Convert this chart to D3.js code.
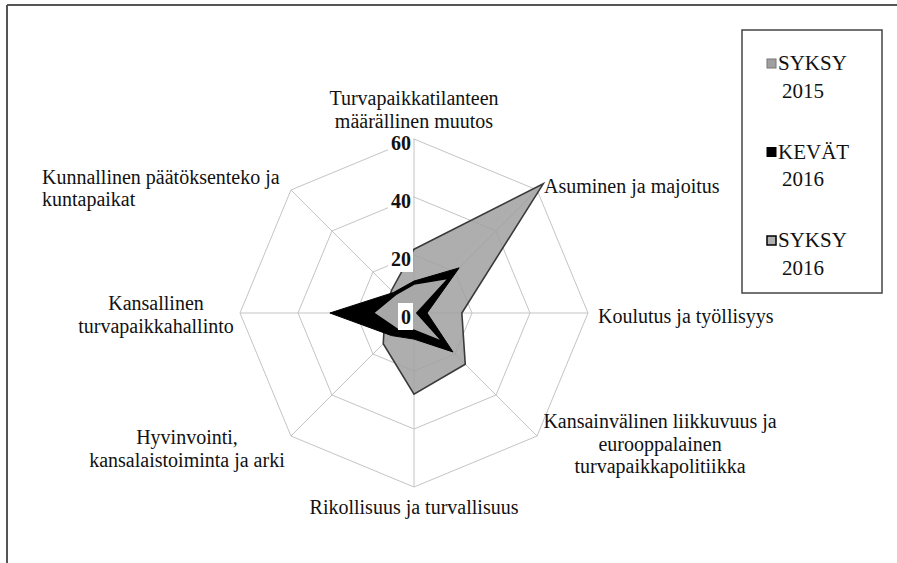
<!DOCTYPE html>
<html lang="fi">
<head>
  <meta charset="UTF-8">
  <title>Turvapaikkakeskustelun teemat</title>
  <script src="https://d3js.org/d3.v7.min.js"></script>
  <style>
    body {
      margin: 0;
      background: #fff;
    }
    svg {
      display: block;
      font-family: "Liberation Serif", "DejaVu Serif", serif;
    }
    .grid {
      fill: none;
      stroke: #c4c4c4;
      stroke-width: 1;
    }
    .cat-label {
      font-size: 20px;
      fill: #111;
    }
    .tick-label {
      font-size: 20px;
      font-weight: bold;
      fill: #111;
    }
    .legend text {
      font-size: 21px;
      fill: #111;
    }
  </style>
</head>
<body>

<svg width="897" height="563"></svg>

<script>
  // categories clockwise from the top
  const categories = [
    ["Turvapaikkatilanteen", "määrällinen muutos"],
    ["Asuminen ja majoitus"],
    ["Koulutus ja työllisyys"],
    ["Kansainvälinen liikkuvuus ja", "eurooppalainen", "turvapaikkapolitiikka"],
    ["Rikollisuus ja turvallisuus"],
    ["Hyvinvointi,", "kansalaistoiminta ja arki"],
    ["Kansallinen", "turvapaikkahallinto"],
    ["Kunnallinen päätöksenteko ja", "kuntapaikat"]
  ];
  const ticks = [0, 20, 40, 60];
  const syksy2015 = [22, 63, 16.5, 25, 28, 15, 10, 11];
  const kevat2016 = [11, 22, 4.5, 19, 9, 11, 29, 10];
  const syksy2016 = [10, 17, 1, 14, 6, 8, 14, 9];

  const seriesNames = [["SYKSY", "2015"], ["KEVÄT", "2016"], ["SYKSY", "2016"]];

  const svg = d3.select("svg");
  const cx = 414, cy = 313, R = 174;

  const r = d3.scaleLinear().domain([0, 60]).range([0, R]);
  const angle = i => i * Math.PI / 4;
  const pt = (i, v) => [cx + r(v) * Math.sin(angle(i)), cy - r(v) * Math.cos(angle(i))];

  // outer frame (cropped figure border)
  svg.append("line").attr("x1", 7).attr("y1", 5).attr("x2", 897).attr("y2", 5)
      .attr("stroke", "#555").attr("stroke-width", 2);
  svg.append("line").attr("x1", 7).attr("y1", 5).attr("x2", 7).attr("y2", 563)
      .attr("stroke", "#555").attr("stroke-width", 2);

  // grid rings and spokes
  const grid = svg.append("g");
  grid.selectAll("polygon")
      .data(ticks.filter(t => t > 0))
      .join("polygon")
      .attr("class", "grid")
      .attr("points", t => categories.map((c, i) => pt(i, t).join(",")).join(" "));

  grid.selectAll("line")
      .data(categories)
      .join("line")
      .attr("class", "grid")
      .attr("x1", cx).attr("y1", cy)
      .attr("x2", (d, i) => pt(i, 60)[0])
      .attr("y2", (d, i) => pt(i, 60)[1]);

  // series polygons, drawn in legend order
  const series = [
    { values: syksy2015, fill: "#a0a0a0", opacity: 0.85, stroke: "#3a3a3a", sw: 1.6 },
    { values: kevat2016, fill: "#000", opacity: 1, stroke: "#000", sw: 1 },
    { values: syksy2016, fill: "#a8a8a8", opacity: 1, stroke: "#000", sw: 1.6 }
  ];
  const line = d3.line().curve(d3.curveLinearClosed);

  svg.append("g")
      .selectAll("path")
      .data(series)
      .join("path")
      .attr("d", s => line(s.values.map((v, i) => pt(i, v))))
      .attr("fill", s => s.fill)
      .attr("fill-opacity", s => s.opacity)
      .attr("stroke", s => s.stroke)
      .attr("stroke-width", s => s.sw)
      .attr("stroke-linejoin", "miter");

  // tick labels with white boxes, left of the top spoke
  const tickG = svg.append("g");
  ticks.forEach(t => {
    const g = tickG.append("g");
    const txt = g.append("text")
        .attr("class", "tick-label")
        .attr("x", cx - 3)
        .attr("y", pt(0, t)[1] + 4)
        .attr("dy", "0.35em")
        .attr("text-anchor", "end")
        .text(t);
    const b = txt.node().getBBox();
    g.insert("rect", "text")
        .attr("x", b.x - 3).attr("y", b.y - 3)
        .attr("width", b.width + 5).attr("height", b.height + 5)
        .attr("fill", "#fff");
  });

  // category labels: anchor, offset from outer vertex, first line centre
  const labelLayout = [
    { anchor: "middle", dx: 0, dy: -41 },
    { anchor: "start", dx: 7, dy: -4 },
    { anchor: "start", dx: 10, dy: 3 },
    { anchor: "middle", dx: 123, dy: -15 },
    { anchor: "middle", dx: 0, dy: 20 },
    { anchor: "middle", dx: -104, dy: 1 },
    { anchor: "middle", dx: -84, dy: -10 },
    { anchor: "start", dx: -249, dy: -13 }
  ];
  const lineH = 22.5;

  svg.append("g")
      .selectAll("text")
      .data(categories)
      .join("text")
      .attr("class", "cat-label")
      .attr("text-anchor", (d, i) => labelLayout[i].anchor)
      .each(function(d, i) {
        const [vx, vy] = pt(i, 60);
        const l = labelLayout[i];
        d3.select(this).selectAll("tspan")
            .data(d)
            .join("tspan")
            .attr("x", vx + l.dx)
            .attr("y", (s, j) => vy + l.dy + j * lineH)
            .attr("dy", "0.35em")
            .text(s => s);
      });

  // legend
  const legend = svg.append("g").attr("class", "legend");
  legend.append("rect")
      .attr("x", 742).attr("y", 30).attr("width", 140).attr("height", 263)
      .attr("fill", "#fff").attr("stroke", "#444").attr("stroke-width", 1.5);

  const markerStyle = [
    { fill: "#a0a0a0", stroke: "#777", sw: 1 },
    { fill: "#000", stroke: "#000", sw: 1 },
    { fill: "#b0b0b0", stroke: "#000", sw: 1.5 }
  ];
  const legendY = d3.scalePoint().domain(d3.range(seriesNames.length)).range([63, 240]);

  seriesNames.forEach((name, i) => {
    const y = legendY(i);
    legend.append("rect")
        .attr("x", 767).attr("y", y - 4).attr("width", 9).attr("height", 9)
        .attr("fill", markerStyle[i].fill)
        .attr("stroke", markerStyle[i].stroke)
        .attr("stroke-width", markerStyle[i].sw);
    legend.append("text")
        .selectAll("tspan")
        .data(name)
        .join("tspan")
        .attr("x", (s, j) => j === 0 ? 778 : 782)
        .attr("y", (s, j) => y + j * 27.5)
        .attr("dy", "0.35em")
        .text(s => s);
  });
</script>
</body>
</html>
